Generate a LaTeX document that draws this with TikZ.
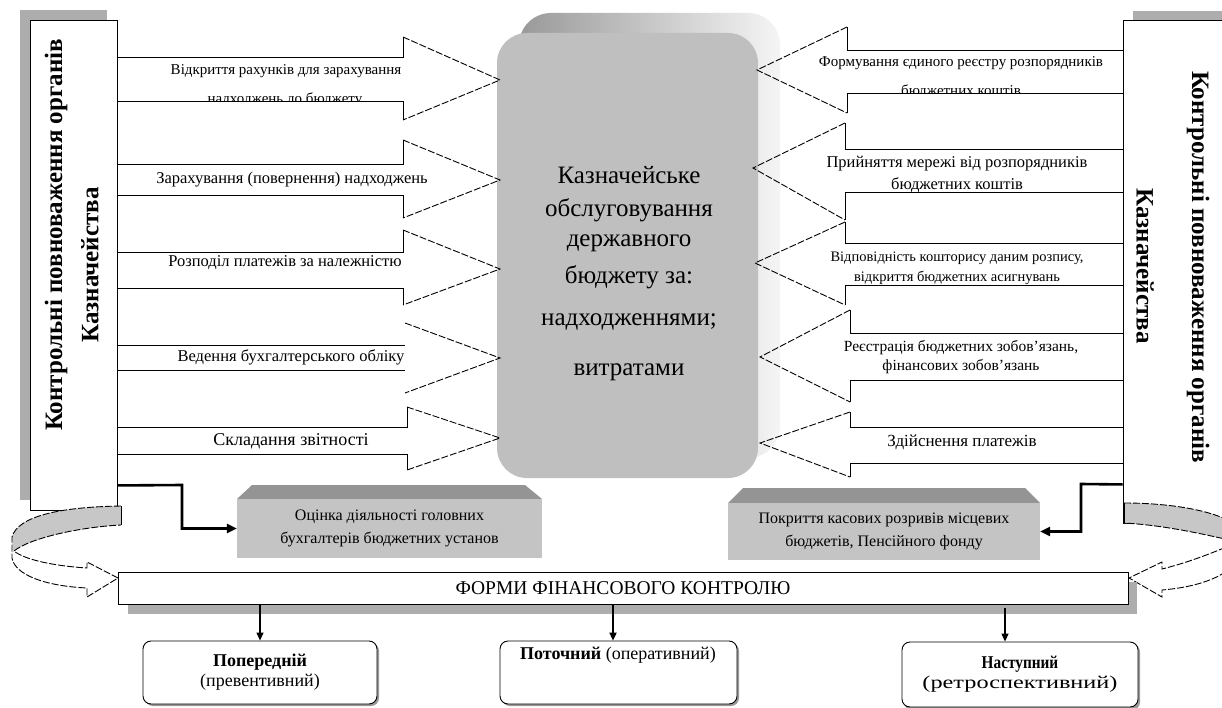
\documentclass[tikz,border=0pt]{standalone}
\usepackage{fontspec}
\setmainfont{Liberation Serif}
\usetikzlibrary{arrows.meta,calc}
\newcommand\LArrowShape[6]{% ht st sb hb hx tipy
 \draw[solidl] (117,#2) -- (#5,#2) -- (#5,#1);
 \draw[dashl] (#5,#1) -- (500,#6) -- (#5,#4);
 \draw[solidl] (#5,#4) -- (#5,#3) -- (117,#3);}
\newcommand\RArrowShape[7]{% ht st sb hb hx tipx tipy
 \draw[solidl] (1123,#2) -- (#5,#2) -- (#5,#1);
 \draw[dashl] (#5,#1) -- (#6,#7) -- (#5,#4);
 \draw[solidl] (#5,#4) -- (#5,#3) -- (1123,#3);}
\newcommand\fsz[2]{\fontsize{#1}{#2}\selectfont}
\begin{document}
\begin{tikzpicture}[x=1pt,y=-1pt,
 solidl/.style={line width=0.9pt},
 dashl/.style={line width=0.9pt, dash pattern=on 7pt off 2pt},
 boxw/.style={draw, line width=0.9pt, fill=white, inner sep=0pt},
 shad/.style={fill=black!32},
 lbl/.style={align=center, inner sep=0pt},
 vtxt/.style={inner sep=0pt, font=\fsz{25}{30}\bfseries},
 ctxt/.style={inner sep=0pt, font=\fsz{25}{30}},
 conn/.style={line width=2.6pt, -{Triangle[length=10pt,width=9pt]}},
 down/.style={line width=1.3pt, -{Triangle[length=8pt,width=7pt]}},
 bevel/.style={fill=black!23, inner sep=0pt, align=center, font=\fsz{16}{23}},
 bevtop/.style={fill=black!42},
 rbox/.style={draw, line width=0.9pt, fill=white, rounded corners=8pt, inner sep=0pt},
 bandfill/.style={fill=black!22},
]
\path[use as bounding box] (0,0) rectangle (1222,708);
\clip (0,0) rectangle (1222,708);
\fill[white] (0,0) rectangle (1222,708);

% side boxes
\fill[shad] (20,10) rectangle (107,500);
\node[boxw, minimum width=87pt, minimum height=490pt] (lb) at (73.5,265) {};
\node[vtxt, rotate=90] (lt1) at (56,235) {Контрольні повноваження органів};
\node[vtxt, rotate=90] (lt2) at (90,265) {Казначейства};

\fill[shad] (1133,11) rectangle (1240,513);
\node[boxw, minimum width=109pt, minimum height=503pt] (rb) at (1177.5,271.5) {};
\node[vtxt, rotate=-90] (rt1) at (1198,267) {Контрольні повноваження органів};
\node[vtxt, rotate=-90] (rt2) at (1145,266) {Казначейства};

% centre box
\shade[left color=black!40, right color=black!4, rounded corners=32pt] (519,13) rectangle (780,458);
\node[fill=black!25, rounded corners=30pt, minimum width=261pt, minimum height=445pt, inner sep=0pt] (cb) at (627.5,255.5) {};
\node[ctxt] (c1) at (629,175) {Казначейське};
\node[ctxt] (c2) at (629,210) {обслуговування};
\node[ctxt] (c3) at (629,243) {державного};
\node[ctxt] (c4) at (629,277) {бюджету за:};
\node[ctxt] (c5) at (629,322) {надходженнями;};
\node[ctxt] (c6) at (629,372) {витратами};

% left block arrows
\LArrowShape{37}{57}{101}{120}{403}{80}
\node[lbl, font=\fsz{15}{22}] (a1) at (286,71) {Відкриття рахунків для зарахування};
\begin{scope}
\clip (118,58) rectangle (402,100.5);
\node[lbl, font=\fsz{15}{22}] (a1b) at (285,100) {надходжень до бюджету};
\end{scope}
\LArrowShape{140}{164}{195}{218}{403}{180}
\node[lbl, font=\fsz{16.5}{22}] (a2) at (292,180) {Зарахування (повернення) надходжень};
\LArrowShape{230}{252}{288}{305}{403}{269}
\node[lbl, font=\fsz{16.5}{22}] (a3) at (285,263) {Розподіл платежів за належністю};
\draw[solidl] (117,345) -- (405,345);
\draw[dashl] (405,323) -- (500,358) -- (405,393);
\draw[solidl] (117,370) -- (405,370);
\node[lbl, font=\fsz{16.5}{22}] (a4) at (291,357) {Ведення бухгалтерського обліку};
\LArrowShape{407}{427}{454}{470}{407}{438}
\node[lbl, font=\fsz{18}{22}] (a5) at (291,441) {Складання звітності};

% right block arrows
\RArrowShape{27}{50}{93}{113}{847}{757}{70}
\node[lbl, font=\fsz{15}{22}] (r1) at (961,63) {Формування єдиного реєстру розпорядників};
\begin{scope}
\clip (848,51) rectangle (1122,92.5);
\node[lbl, font=\fsz{15}{22}] (r1b) at (961,92) {бюджетних коштів};
\end{scope}
\RArrowShape{123}{149}{192}{220}{845}{753}{168}
\node[lbl, font=\fsz{16.5}{22}] (r2) at (957,174) {Прийняття мережі від розпорядників\\бюджетних коштів};
\RArrowShape{222}{243}{285}{305}{845}{755}{263}
\node[lbl, font=\fsz{14.5}{20}] (r3) at (957,268) {Відповідність кошторису даним розпису,\\відкриття бюджетних асигнувань};
\RArrowShape{310}{333}{380}{402}{850}{760}{357}
\node[lbl, font=\fsz{15.5}{19}] (r4) at (961,357.5) {Реєстрація бюджетних зобов’язань,\\фінансових зобов’язань};
\RArrowShape{412}{427}{463}{477}{850}{760}{443}
\node[lbl, font=\fsz{17}{22}] (r5) at (962,442) {Здійснення платежів};

% bevel boxes
\fill[bevtop] (237,499) -- (252,485) -- (525,485) -- (542,499) -- cycle;
\node[bevel, minimum width=305pt, minimum height=59pt] (ob) at (389.5,528.5) {Оцінка діяльності головних\\бухгалтерів бюджетних установ};
\fill[bevtop] (728,503) -- (743,488) -- (1025,488) -- (1040,503) -- cycle;
\node[bevel, minimum width=312pt, minimum height=57pt] (pb) at (884,531.5) {Покриття касових розривів місцевих\\бюджетів, Пенсійного фонду};

\coordinate (k1) at (182,485);
\coordinate (k2) at (1081,484);
\draw[conn] ($(lb.south east)+(0,-25)$) -- (k1) |- (ob.west);
\draw[conn] ($(rb.south west)+(0,-39)$) -- (k2) |- (pb.east);

% curved arrows
\fill[bandfill] (121,506) .. controls (60,507) and (18,516) .. (12,537) -- (13,552)
  .. controls (30,538) and (80,527) .. (121,525) -- cycle;
\draw[dashl] (121,506) .. controls (60,507) and (18,516) .. (12,537) -- (12,558)
  .. controls (15,575) and (45,586) .. (87,588) -- (87,597) -- (118,578) -- (87,562) -- (87,568)
  .. controls (55,566) and (25,560) .. (14,551)
  .. controls (30,538) and (80,527) .. (121,525);
\draw[solidl] (121,506) -- (121,525);

\fill[bandfill] (1124,503) .. controls (1175,503) and (1225,512) .. (1242,530) -- (1242,544) -- (1238,542)
  .. controls (1195,532) and (1160,525) .. (1124,523) -- cycle;
\draw[dashl] (1124,503) .. controls (1175,503) and (1225,512) .. (1242,530) -- (1242,550)
  .. controls (1238,570) and (1210,586) .. (1162,590) -- (1162,597) -- (1129,578) -- (1162,562) -- (1162,569)
  .. controls (1190,562) and (1215,552) .. (1238,542)
  .. controls (1195,532) and (1160,525) .. (1124,523);
\draw[solidl] (1124,503) -- (1124,523);

% bar
\fill[shad] (128,582) rectangle (1137,614);
\node[boxw, minimum width=1010pt, minimum height=32pt, font=\fsz{19.5}{22}] (fb) at (623,588) {ФОРМИ ФІНАНСОВОГО КОНТРОЛЮ};

% bottom boxes
\fill[black!40, rounded corners=8pt] (145,643) rectangle (379,706);
\node[rbox, minimum width=234pt, minimum height=63pt, align=center, font=\fsz{18}{20}] (b1) at (260,672.5) {\textbf{Попередній}\\(превентивний)};
\fill[black!40, rounded corners=8pt] (502,643) rectangle (739,706);
\node[rbox, minimum width=237pt, minimum height=63pt] (b2) at (618.5,672.5) {};
\node[lbl, font=\fsz{18}{20}] (b2t) at (618,655) {\textbf{Поточний} (оперативний)};
\fill[black!40, rounded corners=8pt] (904,644) rectangle (1140,710);
\node[rbox, minimum width=236pt, minimum height=65pt, align=center, font=\fsz{18}{20}] (b3) at (1020,674.5) {\scalebox{0.85}[1]{\textbf{Наступний}}\\\scalebox{1.35}[1]{(ретроспективний)}};

\coordinate (x2) at (613,0);
\coordinate (x3) at (1005,0);
\draw[down] (fb.south -| b1.north) -- (b1.north);
\draw[down, line width=2.6pt] (fb.south -| x2) -- (b2.north -| x2);
\draw[down] ($(fb.south -| x3)+(0,4)$) -- (b3.north -| x3);
\end{tikzpicture}
\end{document}
